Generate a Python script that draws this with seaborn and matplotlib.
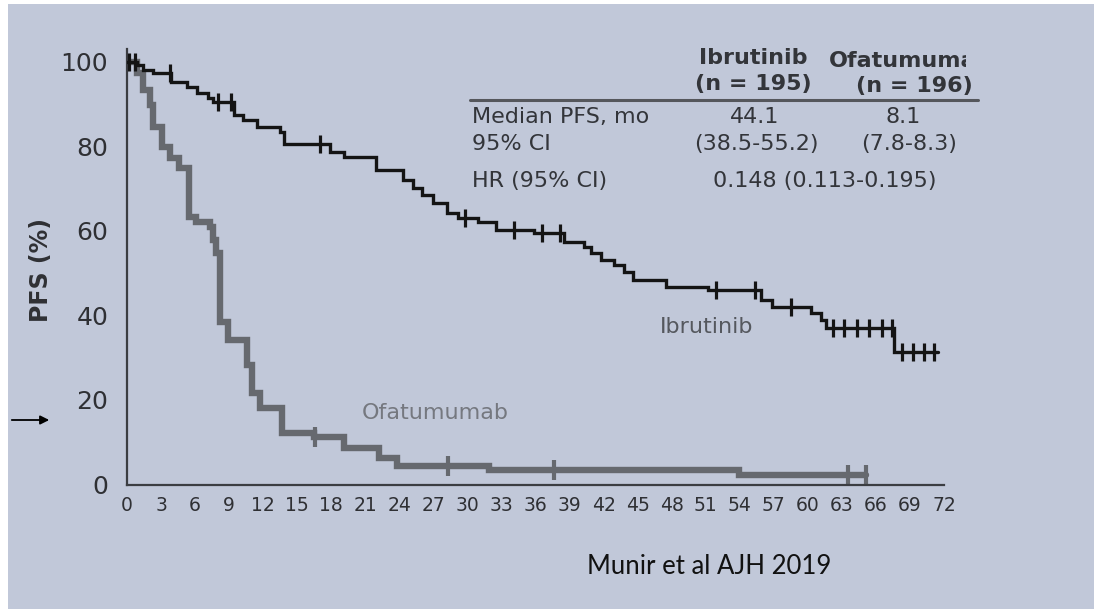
import numpy as np
import pandas as pd
import matplotlib
matplotlib.use("Agg")
import matplotlib.pyplot as plt
import seaborn as sns
from matplotlib.patches import Rectangle

# Kaplan-Meier step points (months, % progression-free)
ibr_months = [0, 0.9, 1.4, 2.3, 3.9, 5.3, 6.2, 7.1, 7.6, 9.4, 10.2, 11.5, 13.5, 13.8,
              17.9, 19.1, 21.9, 24.3, 25.2, 26.0, 27.0, 28.2, 29.2, 30.9, 32.5, 35.9,
              38.5, 40.3, 40.9, 41.8, 42.9, 43.8, 44.6, 47.5, 51.2, 55.9, 56.8, 60.3,
              61.2, 61.6, 67.6, 71.5]
ibr_pfs = [100, 99.2, 98.2, 97.4, 95.3, 94.1, 92.7, 91.5, 90.5, 87.5, 86.3, 84.6, 83.4, 80.6,
           78.7, 77.5, 74.4, 72.0, 70.2, 68.5, 66.6, 64.3, 63.0, 62.1, 60.2, 59.5,
           57.4, 56.2, 54.8, 53.1, 52.0, 50.3, 48.4, 46.7, 46.0, 43.7, 42.0, 40.6,
           39.0, 37.1, 31.3, 31.3]
ibr_censored = [0.2, 0.7, 3.8, 8.0, 9.2, 17.0, 29.8, 34.1, 36.6, 38.2, 51.9, 55.3, 58.5,
                62.2, 63.2, 64.3, 65.4, 66.5, 67.4, 68.3, 69.3, 70.2, 71.1]

ofa_months = [0, 0.9, 1.4, 2.0, 2.3, 3.1, 3.8, 4.6, 5.5, 6.1, 7.3, 7.6, 7.8, 8.2, 8.9,
              10.6, 11.0, 11.7, 13.7, 16.5, 19.1, 22.2, 23.8, 31.9, 53.9, 65.1]
ofa_pfs = [100, 97.5, 93.4, 89.8, 84.6, 79.9, 77.3, 74.9, 63.3, 62.1, 61.0, 57.9, 54.8, 38.4, 34.2,
           28.3, 21.7, 18.1, 12.2, 11.2, 8.6, 6.3, 4.4, 3.4, 2.2, 2.2]
ofa_censored = [16.6, 28.3, 37.6, 63.5, 65.1]

x_ticks = list(range(0, 73, 3))
y_ticks = [0, 20, 40, 60, 80, 100]

table_cols = ["Ibrutinib\n(n = 195)", "Ofatumumab\n(n = 196)"]
table_rows = ["Median PFS, mo", "95% CI", "HR (95% CI)"]
median_pfs = ["44.1", "8.1"]
median_ci = ["(38.5-55.2)", "(7.8-8.3)"]
hazard_ratio = "0.148 (0.113-0.195)"
source_note = "Munir et al AJH 2019"

PANEL = "#c1c8d9"
AXIS = "#3b3d42"
BLACK = "#141414"
GREY = "#66696f"
TICKTXT = "#2f3034"

df = pd.concat([
    pd.DataFrame({"month": ibr_months, "pfs": ibr_pfs, "arm": "Ibrutinib"}),
    pd.DataFrame({"month": ofa_months, "pfs": ofa_pfs, "arm": "Ofatumumab"}),
], ignore_index=True)


def level_at(times, months, pfs):
    idx = np.searchsorted(months, times, side="right") - 1
    return np.asarray(pfs)[idx]


sns.set_theme(style="white")
plt.rcParams["font.family"] = ["DejaVu Sans"]

W, H = 1094, 609
fig = plt.figure(figsize=(W / 100, H / 100), dpi=100, facecolor="white")


def fx(px):
    return px / W


def fy(py):
    return 1 - py / H


fig.patches.append(Rectangle((fx(8), 0), 1 - fx(8), 1 - 4 / H, transform=fig.transFigure,
                             facecolor=PANEL, edgecolor="none", zorder=-5))

ax = fig.add_axes([fx(127), fy(484.5), fx(944) - fx(127), (484.5 - 49.3) / H])
ax.set_facecolor("none")

sns.lineplot(data=df[df.arm == "Ofatumumab"], x="month", y="pfs", drawstyle="steps-post",
             estimator=None, color=GREY, lw=4.6, ax=ax, legend=False,
             solid_joinstyle="miter", zorder=2)
sns.lineplot(data=df[df.arm == "Ibrutinib"], x="month", y="pfs", drawstyle="steps-post",
             estimator=None, color=BLACK, lw=2.4, ax=ax, legend=False,
             solid_joinstyle="miter", zorder=3)

sns.scatterplot(x=ofa_censored, y=level_at(ofa_censored, ofa_months, ofa_pfs), marker="|",
                s=15 ** 2, linewidth=3.0, color=GREY, ax=ax, legend=False, zorder=2, clip_on=False)
sns.scatterplot(x=ibr_censored, y=level_at(ibr_censored, ibr_months, ibr_pfs), marker="|",
                s=13 ** 2, linewidth=2.3, color=BLACK, ax=ax, legend=False, zorder=4, clip_on=False)

ax.set_xlim(0, 72)
ax.set_ylim(0, 103)
ax.set_xticks(x_ticks)
ax.set_yticks(y_ticks)
for side in ("top", "right"):
    ax.spines[side].set_visible(False)
for side in ("left", "bottom"):
    ax.spines[side].set_color(AXIS)
    ax.spines[side].set_linewidth(1.6)
ax.tick_params(axis="x", direction="out", length=6, width=1.6, color=AXIS, pad=2,
               labelsize=13.5, labelcolor=TICKTXT)
ax.tick_params(axis="y", direction="out", length=9.5, width=1.6, color=AXIS, pad=4,
               labelsize=18, labelcolor=TICKTXT)
ax.set_xlabel("")
ax.set_ylabel("PFS (%)", fontsize=17, fontweight="bold", color="#2f3034")
ax.yaxis.set_label_coords(-0.09, 0.493)

# curve labels
ax.text(51.1, 37.3, "Ibrutinib", fontsize=16, color="#55585e", ha="center", va="center")
ax.text(27.2, 16.9, "Ofatumumab", fontsize=16, color="#75787f", ha="center", va="center")

# summary table
TXT = "#33353a"
hdr1, hdr2 = table_cols[0].split("\n"), table_cols[1].split("\n")
fig.text(fx(753), fy(58), hdr1[0], fontsize=16, fontweight="bold", color=TXT, ha="center", va="center")
fig.text(fx(753), fy(84), hdr1[1], fontsize=16, fontweight="bold", color=TXT, ha="center", va="center")
t_ofa = fig.text(fx(829), fy(61), hdr2[0], fontsize=16, fontweight="bold", color=TXT,
                 ha="left", va="center")
t_ofa.set_clip_path(Rectangle((0, 0), fx(966), 1, transform=fig.transFigure))
fig.text(fx(914), fy(86), hdr2[1], fontsize=16, fontweight="bold", color=TXT, ha="center", va="center")
fig.add_artist(plt.Line2D([fx(470), fx(978)], [fy(100), fy(100)], transform=fig.transFigure,
                          color="#55575c", lw=2.2))
row_y = [117, 144, 181]
for name, py in zip(table_rows, row_y):
    fig.text(fx(472), fy(py), name, fontsize=16, color=TXT, ha="left", va="center")
fig.text(fx(755), fy(117), median_pfs[0], fontsize=16, color=TXT, ha="center", va="center")
fig.text(fx(903), fy(117), median_pfs[1], fontsize=16, color=TXT, ha="center", va="center")
fig.text(fx(756), fy(144), median_ci[0], fontsize=16, color=TXT, ha="center", va="center")
fig.text(fx(909), fy(144), median_ci[1], fontsize=16, color=TXT, ha="center", va="center")
fig.text(fx(825), fy(181), hazard_ratio, fontsize=16, color=TXT, ha="center", va="center")

# pointer arrow and source note
ax.annotate("", xy=(fx(52), fy(420)), xytext=(fx(9), fy(420)), xycoords="figure fraction",
            textcoords="figure fraction", annotation_clip=False,
            arrowprops=dict(arrowstyle="-|>", color="black", lw=1.3, mutation_scale=13))
fig.text(fx(709), fy(566), source_note, fontsize=18.5, color="#111111", ha="center", va="center",
         family=["Lato", "DejaVu Sans"])

fig.savefig("out.png", dpi=100, facecolor="white")
